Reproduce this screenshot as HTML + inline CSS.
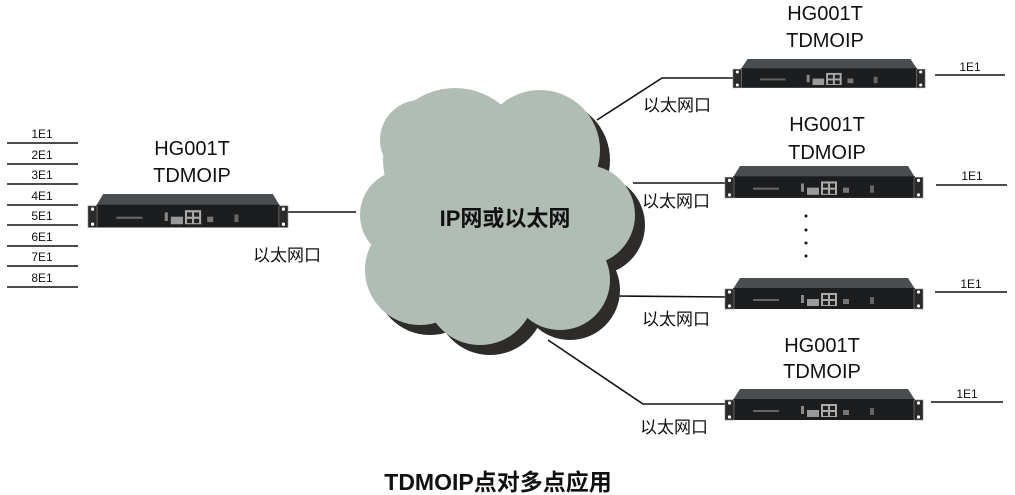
<!DOCTYPE html>
<html><head><meta charset="utf-8"><style>
html,body{margin:0;padding:0;background:#fff;}
svg{display:block;}
text{font-family:"Liberation Sans","Noto Sans CJK SC",sans-serif;fill:#111;}
</style></head><body>
<svg width="1015" height="495" viewBox="0 0 1015 495" xmlns="http://www.w3.org/2000/svg">
<defs>
<g id="dev">
  <polygon points="15,0 183,0 190,11 8,11" fill="#4a4d50"/>
  <rect x="8" y="10" width="182" height="21" fill="#1c1d1f"/>
  <rect x="0" y="11" width="9" height="20" fill="#2a2a2a" stroke="#888" stroke-width="0.6"/>
  <rect x="189" y="11" width="9" height="20" fill="#2a2a2a" stroke="#888" stroke-width="0.6"/>
  <circle cx="4.5" cy="14" r="1.6" fill="#fff"/><circle cx="4.5" cy="28" r="1.6" fill="#fff"/>
  <circle cx="193.5" cy="14" r="1.6" fill="#fff"/><circle cx="193.5" cy="28" r="1.6" fill="#fff"/>
  <rect x="28" y="21" width="26" height="2" fill="#666"/>
  <rect x="76" y="17" width="3" height="8" fill="#888"/>
  <rect x="82" y="21" width="12" height="7" fill="#999"/>
  <rect x="96" y="15" width="16" height="13" fill="#aaa"/>
  <rect x="98" y="17" width="5" height="4" fill="#222"/><rect x="105" y="17" width="5" height="4" fill="#222"/>
  <rect x="98" y="23" width="5" height="4" fill="#222"/><rect x="105" y="23" width="5" height="4" fill="#222"/>
  <rect x="118" y="21" width="6" height="5" fill="#777"/>
  <rect x="145" y="19" width="4" height="7" fill="#666"/>
</g>
</defs>

<g font-size="12" text-anchor="middle">
  <text x="42" y="138">1E1</text><text x="42" y="159">2E1</text><text x="42" y="179">3E1</text><text x="42" y="200">4E1</text>
  <text x="42" y="220">5E1</text><text x="42" y="241">6E1</text><text x="42" y="261">7E1</text><text x="42" y="282">8E1</text>
</g>
<g stroke="#111" stroke-width="1.6">
  <line x1="7" y1="143" x2="78" y2="143"/><line x1="7" y1="164" x2="78" y2="164"/><line x1="7" y1="184" x2="78" y2="184"/>
  <line x1="7" y1="205" x2="78" y2="205"/><line x1="7" y1="225" x2="78" y2="225"/><line x1="7" y1="246" x2="78" y2="246"/>
  <line x1="7" y1="266" x2="78" y2="266"/><line x1="7" y1="287" x2="78" y2="287"/>
</g>

<g stroke="#111" stroke-width="1.6" fill="none">
  <line x1="285" y1="212" x2="356" y2="212"/>
  <polyline points="597,120 662,78 737,78"/>
  <line x1="633" y1="183" x2="728" y2="183"/>
  <line x1="615" y1="296" x2="728" y2="297"/>
  <polyline points="548,340 643,404 728,404"/>
  <line x1="935" y1="75" x2="1005" y2="75"/>
  <line x1="936" y1="185" x2="1007" y2="185"/>
  <line x1="935" y1="292" x2="1007" y2="292"/>
  <line x1="931" y1="402" x2="1003" y2="402"/>
</g>
<g font-size="12" text-anchor="middle">
  <text x="970" y="71">1E1</text><text x="972" y="180">1E1</text><text x="971" y="288">1E1</text><text x="967" y="398">1E1</text>
</g>

<g>
  <g fill="#2e2c2a" transform="translate(10,10)">
    <circle cx="455" cy="160" r="72"/><circle cx="540" cy="150" r="60"/><circle cx="585" cy="215" r="50"/>
    <circle cx="560" cy="280" r="50"/><circle cx="480" cy="290" r="55"/><circle cx="420" cy="270" r="55"/>
    <circle cx="405" cy="215" r="45"/><circle cx="500" cy="220" r="80"/>
  </g>
  <g fill="#b1bdb4">
    <circle cx="455" cy="160" r="72"/><circle cx="540" cy="150" r="60"/><circle cx="585" cy="215" r="50"/>
    <circle cx="560" cy="280" r="50"/><circle cx="480" cy="290" r="55"/><circle cx="420" cy="270" r="55"/>
    <circle cx="405" cy="215" r="45"/><circle cx="500" cy="220" r="80"/><circle cx="420" cy="140" r="40"/>
  </g>
  <text x="505" y="226" font-size="22" font-weight="bold" text-anchor="middle">IP网或以太网</text>
</g>

<use href="#dev" transform="translate(88,194) scale(1.01,1.08)"/>
<use href="#dev" transform="translate(733,59) scale(0.97,0.93)"/>
<use href="#dev" transform="translate(725,166) scale(1,1.03)"/>
<use href="#dev" transform="translate(725,278)"/>
<use href="#dev" transform="translate(725,389)"/>

<g font-size="20" text-anchor="middle">
  <text x="192" y="155">HG001T</text><text x="192" y="182">TDMOIP</text>
  <text x="825" y="20">HG001T</text><text x="825" y="47">TDMOIP</text>
  <text x="827" y="131">HG001T</text><text x="827" y="159">TDMOIP</text>
  <text x="822" y="352">HG001T</text><text x="822" y="378">TDMOIP</text>
</g>
<g font-size="17">
  <text x="253" y="261">以太网口</text>
  <text x="643" y="111">以太网口</text>
  <text x="642" y="207">以太网口</text>
  <text x="642" y="325">以太网口</text>
  <text x="640" y="433">以太网口</text>
</g>
<g fill="#111">
  <circle cx="806" cy="216" r="1.5"/><circle cx="806" cy="230" r="1.5"/><circle cx="806" cy="243" r="1.5"/><circle cx="806" cy="256" r="1.5"/>
</g>

<text x="498" y="490" font-size="23" font-weight="bold" text-anchor="middle">TDMOIP点对多点应用</text>
</svg>
</body></html>
